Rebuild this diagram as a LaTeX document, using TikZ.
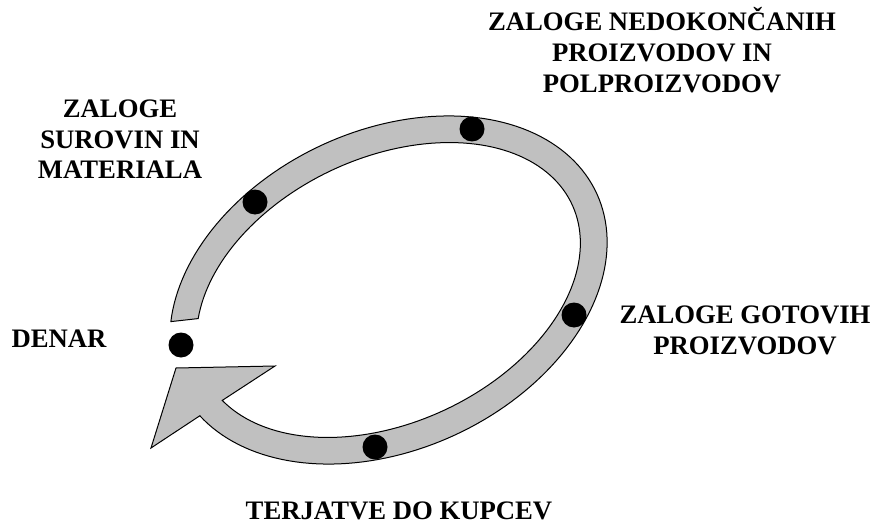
\documentclass[tikz,border=0pt]{standalone}
\usepackage{fontspec}
\setmainfont{Liberation Serif}
\definecolor{ringgray}{RGB}{192,192,192}
\begin{document}
\begin{tikzpicture}[x=1pt,y=-1pt,
    ring/.style={fill=ringgray,draw=black,line width=1pt,line join=miter},
    dot/.style={circle,fill=black,inner sep=0pt,minimum size=25pt},
    stage/.style={font=\fontsize{26.7}{30.8}\selectfont\bfseries,align=center,inner sep=0pt}]
    \useasboundingbox (0,0) rectangle (875,524);
    \coordinate (tip) at (151,448);
    \coordinate (barbleft) at (176,368);
    \coordinate (barbright) at (275,366);
    \draw[ring] plot[domain=-156.6:167.6,samples=160,variable=\t]
        ({388.5+229.5*cos(\t)*cos(25)+159.5*sin(\t)*sin(25)},{290-229.5*cos(\t)*sin(25)+159.5*sin(\t)*cos(25)})
        -- (tip) -- (barbleft) -- (barbright) --
        plot[domain=167:-155.7,samples=160,variable=\t]
        ({388.5+202.5*cos(\t)*cos(25)+132.5*sin(\t)*sin(25)},{290-202.5*cos(\t)*sin(25)+132.5*sin(\t)*cos(25)})
        -- cycle;
    \node[dot] (surovine) at (255,202) {};
    \node[dot] (nedokoncani) at (472,129) {};
    \node[dot] (gotovi) at (574,315) {};
    \node[dot] (terjatve) at (375,447) {};
    \node[dot] (denar) at (181,345) {};
    \node[stage,anchor=south] (surovinetext) at (120,179) {ZALOGE\\SUROVIN IN\\MATERIALA};
    \node[stage,anchor=south] (nedokoncanitext) at (662,93) {ZALOGE NEDOKONČANIH\\PROIZVODOV IN\\POLPROIZVODOV};
    \node[stage,anchor=south] (gotovitext) at (745,355) {ZALOGE GOTOVIH\\PROIZVODOV};
    \node[stage,anchor=base] (denartext) at (59,347) {DENAR};
    \node[stage,anchor=base] (terjatvetext) at (399,519) {TERJATVE DO KUPCEV};
\end{tikzpicture}
\end{document}
